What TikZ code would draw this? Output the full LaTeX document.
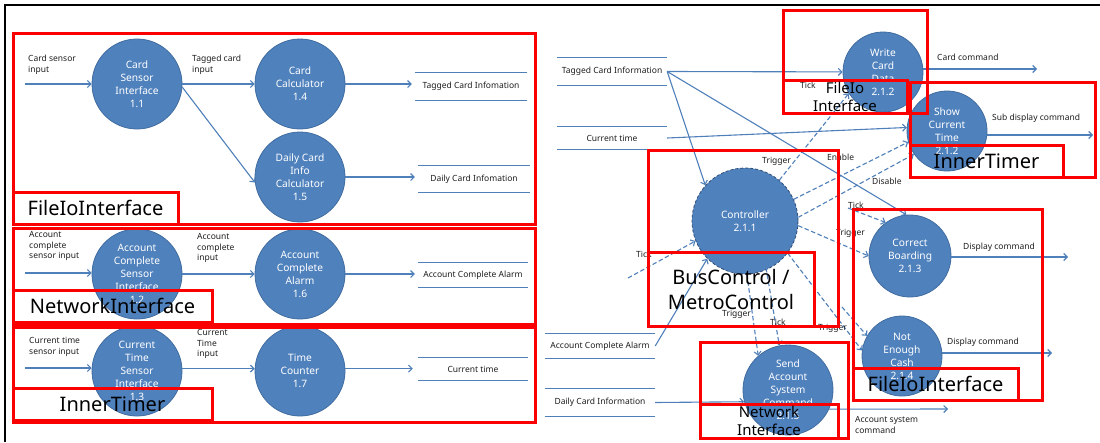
\documentclass[tikz,border=0pt]{standalone}
\usepackage{fontspec}
\setmainfont{Noto Sans}
\usetikzlibrary{arrows.meta}
\definecolor{procfill}{RGB}{79,129,189}
\definecolor{procedge}{RGB}{64,108,160}
\definecolor{ctrledge}{RGB}{50,80,120}
\definecolor{flowblue}{RGB}{80,128,186}
\definecolor{framered}{RGB}{250,0,0}
\definecolor{labelink}{RGB}{30,30,30}
\begin{document}
\begin{tikzpicture}[x=1pt,y=-1pt,
  proc/.style={circle,fill=procfill,draw=procedge,line width=0.8pt,inner sep=0pt,
    minimum size=#1,text=white,align=center,font=\fontsize{10.2}{13}\selectfont},
  proc/.default=90pt,
  flow/.style={draw=flowblue,line width=1.1pt,-{Straight Barb[length=3.5pt,width=7pt]}},
  ctlflow/.style={flow,dash pattern=on 4.5pt off 2.5pt},
  store/.style={inner sep=0pt,font=\fontsize{8.5}{10.5}\selectfont,text=labelink},
  storeline/.style={draw=flowblue,line width=1.1pt},
  lbl/.style={inner sep=0pt,anchor=west,align=left,font=\fontsize{8.5}{10.5}\selectfont,text=labelink},
  redframe/.style={draw=framered,line width=3pt},
  tagbox/.style={draw=framered,line width=3pt,inner sep=0pt,text=black,align=center,
    font=\fontsize{20}{25}\selectfont},
  smalltag/.style={tagbox,font=\fontsize{15}{18}\selectfont},
]
\useasboundingbox (0,0) rectangle (1100,442);
\fill[white] (0,0) rectangle (1100,442);
\draw[line width=2.5pt] (5,442) -- (5,5) -- (1100,5);

% ---------- level 1 processes ----------
\node[proc] (c11) at (137,84)  {Card\\Sensor\\Interface\\1.1};
\node[proc] (c14) at (300,84)  {Card\\Calculator\\1.4};
\node[proc] (c15) at (300,177) {Daily Card\\Info\\Calculator\\1.5};
\node[proc] (c12) at (137,274) {Account\\Complete\\Sensor\\Interface\\1.2};
\node[proc] (c16) at (300,274) {Account\\Complete\\Alarm\\1.6};
\node[proc] (c13) at (137,371) {Current\\Time\\Sensor\\Interface\\1.3};
\node[proc] (c17) at (300,371) {Time\\Counter\\1.7};

% level 1 data stores
\node[store,minimum width=112pt,minimum height=27pt] (S1) at (471,86.5) {Tagged Card Infomation};
\node[store,minimum width=112pt,minimum height=26pt] (S2) at (474,179) {Daily Card Infomation};
\node[store,minimum width=110pt,minimum height=24pt] (S3) at (473,275) {Account Complete Alarm};
\node[store,minimum width=110pt,minimum height=22pt] (S4) at (473,369) {Current time};
\foreach \s in {S1,S2,S3,S4}
  \draw[storeline] (\s.north west) -- (\s.north east) (\s.south west) -- (\s.south east);

% external inputs
\coordinate (in1) at (25,84);
\coordinate (in2) at (25,273);
\coordinate (in3) at (25,368);

% level 1 flows
\draw[flow] (in1) -- (c11);
\draw[flow] (c11) -- (c14);
\draw[flow] (c11.-4) -- (c15.187);
\draw[flow,shorten >=3pt] (c14.east) -- (c14.east -| S1.west);
\draw[flow,shorten >=3pt] (c15.east) -- (c15.east -| S2.west);
\draw[flow] (in2) -- (in2 -| c12.west);
\draw[flow] (c12) -- (c16);
\draw[flow,shorten >=3pt] (c16.east) -- (c16.east -| S3.west);
\draw[flow] (in3) -- (in3 -| c13.west);
\draw[flow] (c13.3) -- (c17.177);
\draw[flow,shorten >=5pt] (c17.3) -- (c17.3 -| S4.west);

% level 1 flow labels
\node[lbl] (l1) at (28,65)  {Card sensor\\input};
\node[lbl] (l2) at (192,65) {Tagged card\\input};
\node[lbl] (l3) at (29,246) {Account\\complete\\sensor input};
\node[lbl] (l4) at (197,248) {Account\\complete\\input};
\node[lbl] (l5) at (29,347) {Current time\\sensor input};
\node[lbl] (l6) at (197,344) {Current\\Time\\input};

% ---------- level 2 processes ----------
\node[proc=106pt,draw=ctrledge,dash pattern=on 3pt off 2pt] (ctrl) at (745,221) {Controller\\2.1.1};
\node[proc=80pt] (c212w) at (883,72)  {Write\\Card\\Data\\2.1.2};
\node[proc=80pt] (c212s) at (947,131) {Show\\Current\\Time\\2.1.2};
\node[proc=82pt] (c213)  at (910,256) {Correct\\Boarding\\2.1.3};
\node[proc=80pt] (c214)  at (902,356) {Not\\Enough\\Cash\\2.1.4};
\node[proc=90pt] (c215)  at (788,390) {Send\\Account\\System\\Command\\2.1.5};

% level 2 data stores
\node[store,minimum width=110pt,minimum height=27pt] (R1) at (612,71.5) {Tagged Card Information};
\node[store,minimum width=110pt,minimum height=22pt] (R2) at (612,138) {Current time};
\node[store,minimum width=110pt,minimum height=24pt] (R3) at (600,346) {Account Complete Alarm};
\node[store,minimum width=110pt,minimum height=27pt] (R4) at (600,402.5) {Daily Card Information};
\foreach \s in {R1,R2,R3,R4}
  \draw[storeline] (\s.north west) -- (\s.north east) (\s.south west) -- (\s.south east);

% outputs and clock sources
\coordinate (oCard)  at (1037,69);
\coordinate (oSub)   at (1093,135);
\coordinate (oDisp1) at (1068,257);
\coordinate (oDisp2) at (1052,353);
\coordinate (oAcct)  at (948,409);
\coordinate (tk1) at (628,278);
\coordinate (tk2) at (848,208);
\coordinate (tk3) at (842,307);
\coordinate (tk4) at (766,268);

% level 2 data flows
\draw[flow] (R1.east) -- (c212w);
\draw[flow] (R1.east) -- (ctrl.138);
\draw[flow] (R1.east) -- (c213.95);
\draw[flow] (R2.east) -- (c212s.175);
\draw[flow] (R3.east) -- (ctrl.225);
\draw[flow] (R4.east) -- (c215.195);
\draw[flow] (c212w.east |- oCard) -- (oCard);
\draw[flow] (c212s.east |- oSub) -- (oSub);
\draw[flow] (c213.east |- oDisp1) -- (oDisp1);
\draw[flow] (c214.east |- oDisp2) -- (oDisp2);
\draw[flow] (c215.-25) -- (oAcct);

% level 2 control flows
\draw[ctlflow] (ctrl.50) -- (c212w.212);
\draw[ctlflow] (ctrl.24) -- (c212s.196);
\draw[ctlflow] (ctrl.4) -- (c212s.215);
\draw[ctlflow] (ctrl.-5) -- (c213.180);
\draw[ctlflow] (ctrl.-37) -- (c214.172);
\draw[ctlflow] (ctrl.-88) -- (c215.131);
\draw[ctlflow] (tk1) -- (ctrl.202);
\draw[ctlflow] (tk2) -- (c213.126);
\draw[ctlflow] (tk3) -- (c214.150);
\draw[ctlflow] (tk4) -- (c215.101);

% level 2 flow labels
\node[lbl] (m1) at (937,57)  {Card command};
\node[lbl] (m2) at (992,118) {Sub display command};
\node[lbl] (m3) at (963,247) {Display command};
\node[lbl] (m4) at (947,342) {Display command};
\node[lbl] (m5) at (855,425) {Account system\\command};
\node[lbl] (m6) at (762,161) {Trigger};
\node[lbl] (m7) at (800,85)  {Tick};
\node[lbl] (m8) at (827,157) {Enable};
\node[lbl] (m9) at (872,181) {Disable};
\node[lbl] (m10) at (848,205) {Tick};
\node[lbl] (m11) at (836,233) {Trigger};
\node[lbl] (m12) at (818,328) {Trigger};
\node[lbl] (m13) at (722,314) {Trigger};
\node[lbl] (m14) at (770,322) {Tick};
\node[lbl] (m15) at (636,254) {Tick};

% ---------- component frames ----------
\draw[redframe] (13,33) rectangle (535,224);
\draw[redframe] (13,228) rectangle (535,324);
\draw[redframe] (13,327) rectangle (535,422);
\node[tagbox,minimum width=165pt,minimum height=32pt] (t1) at (95.5,208) {FileIoInterface};
\node[tagbox,minimum width=199pt,minimum height=32pt] (t2) at (112.5,306) {NetworkInterface};
\node[tagbox,minimum width=199pt,minimum height=32pt] (t3) at (112.5,404) {InnerTimer};

\draw[redframe] (783,10) rectangle (927,113);
\draw[redframe] (910,82) rectangle (1095,177);
\draw[redframe] (648,150) rectangle (838,326);
\draw[redframe] (853,209) rectangle (1042,400);
\draw[redframe] (700,342) rectangle (848,438);
\node[smalltag,minimum width=124pt,minimum height=33pt] (t4) at (845,96.5) {FileIo\\Interface};
\node[tagbox,minimum width=153pt,minimum height=32pt] (t5) at (986.5,161) {InnerTimer};
\node[tagbox,minimum width=166pt,minimum height=74pt] (t6) at (731,289) {BusControl /\\MetroControl};
\node[tagbox,minimum width=165pt,minimum height=32pt] (t7) at (935.5,384) {FileIoInterface};
\node[smalltag,minimum width=138pt,minimum height=34pt] (t8) at (769,421) {Network\\Interface};
\end{tikzpicture}
\end{document}
